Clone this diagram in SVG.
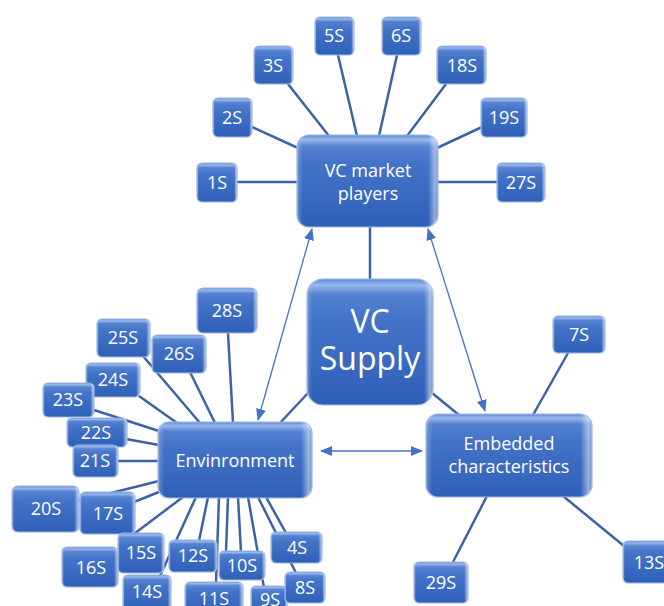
<svg xmlns="http://www.w3.org/2000/svg" width="664" height="606" viewBox="0 0 664 606">
<defs>
<linearGradient id="gv" x1="0" y1="0" x2="0" y2="1">
<stop offset="0" stop-color="#5f8ad6"/>
<stop offset="0.05" stop-color="#9ab8ec"/>
<stop offset="0.12" stop-color="#5683d2"/>
<stop offset="0.3" stop-color="#4474c8"/>
<stop offset="1" stop-color="#2f60b8"/>
</linearGradient>
<linearGradient id="gh" x1="0" y1="0" x2="1" y2="0">
<stop offset="0" stop-color="#ffffff" stop-opacity="0.25"/>
<stop offset="0.04" stop-color="#ffffff" stop-opacity="0"/>
<stop offset="0.93" stop-color="#ffffff" stop-opacity="0"/>
<stop offset="0.98" stop-color="#ffffff" stop-opacity="0.5"/>
<stop offset="1" stop-color="#ffffff" stop-opacity="0.2"/>
</linearGradient>
<marker id="ah" viewBox="0 0 12 10" refX="11" refY="5" markerWidth="12" markerHeight="10" markerUnits="userSpaceOnUse" orient="auto-start-reverse">
<path d="M0,0 L12,5 L0,10 Z" fill="#4472c4"/>
</marker>
</defs>
<style>
.c line{stroke:#3d62a5;stroke-width:2.5;fill:none}
.c line.a{stroke:#4472c4;stroke-width:1.3;marker-start:url(#ah);marker-end:url(#ah)}
.s rect{fill:url(#gv);stroke:#9db5e2;stroke-width:1.2}
.s rect.o{fill:url(#gh);stroke:none}
.s text{font-family:"Open Sans","Noto Sans",sans-serif;fill:#ffffff;font-size:18px;text-anchor:middle}
.s text.big{font-size:32px}
</style>
<rect width="664" height="606" fill="#ffffff"/>
<g id="connectors" class="c">
<line x1="237" y1="182" x2="298" y2="182"/>
<line x1="252" y1="127" x2="298" y2="148"/>
<line x1="288" y1="84" x2="329" y2="136"/>
<line x1="338" y1="55" x2="357" y2="136"/>
<line x1="397" y1="55" x2="379" y2="136"/>
<line x1="446" y1="84" x2="407" y2="136"/>
<line x1="482" y1="127" x2="437" y2="148"/>
<line x1="437" y1="182" x2="497" y2="182"/>
<line x1="370" y1="226" x2="370" y2="280"/>
<line x1="432" y1="393" x2="459" y2="415"/>
<line x1="308" y1="393" x2="280" y2="423"/>
<line x1="533" y1="415" x2="568" y2="353"/>
<line x1="487" y1="496" x2="453" y2="562"/>
<line x1="563" y1="496" x2="624" y2="546"/>
<line x1="228" y1="333" x2="233" y2="423"/>
<line x1="190" y1="372" x2="215" y2="423"/>
<line x1="143" y1="356" x2="200" y2="423"/>
<line x1="139" y1="396" x2="177" y2="423"/>
<line x1="94" y1="410" x2="159" y2="431"/>
<line x1="126" y1="439" x2="159" y2="445"/>
<line x1="117" y1="461" x2="159" y2="461"/>
<line x1="79" y1="501" x2="159" y2="481"/>
<line x1="134" y1="502" x2="159" y2="492"/>
<line x1="183" y1="497" x2="118" y2="546"/>
<line x1="196" y1="497" x2="160" y2="576"/>
<line x1="208" y1="497" x2="199" y2="541"/>
<line x1="219" y1="497" x2="216" y2="583"/>
<line x1="228" y1="497" x2="226" y2="552"/>
<line x1="238" y1="497" x2="241" y2="552"/>
<line x1="248" y1="497" x2="264" y2="588"/>
<line x1="258" y1="497" x2="296" y2="573"/>
<line x1="266" y1="497" x2="286" y2="533"/>
<line class="a" x1="312" y1="229" x2="258" y2="420"/>
<line class="a" x1="428" y1="229" x2="485" y2="411"/>
<line class="a" x1="321" y1="451" x2="422" y2="451"/>
</g>
<g id="n1S" class="s"><rect x="197" y="163" width="40" height="39" rx="5"/><rect class="o" x="197" y="163" width="40" height="39" rx="5"/><text x="217" y="189">1S</text></g>
<g id="n2S" class="s"><rect x="213" y="98" width="39" height="39" rx="5"/><rect class="o" x="213" y="98" width="39" height="39" rx="5"/><text x="232" y="124">2S</text></g>
<g id="n3S" class="s"><rect x="254" y="46" width="39" height="38" rx="5"/><rect class="o" x="254" y="46" width="39" height="38" rx="5"/><text x="273" y="72">3S</text></g>
<g id="n5S" class="s"><rect x="315" y="17" width="39" height="38" rx="5"/><rect class="o" x="315" y="17" width="39" height="38" rx="5"/><text x="334" y="42">5S</text></g>
<g id="n6S" class="s"><rect x="382" y="17" width="39" height="38" rx="5"/><rect class="o" x="382" y="17" width="39" height="38" rx="5"/><text x="401" y="42">6S</text></g>
<g id="n18S" class="s"><rect x="437" y="46" width="49" height="38" rx="5"/><rect class="o" x="437" y="46" width="49" height="38" rx="5"/><text x="462" y="72">18S</text></g>
<g id="n19S" class="s"><rect x="481" y="98" width="46" height="39" rx="5"/><rect class="o" x="481" y="98" width="46" height="39" rx="5"/><text x="504" y="124">19S</text></g>
<g id="n27S" class="s"><rect x="497" y="163" width="48" height="39" rx="5"/><rect class="o" x="497" y="163" width="48" height="39" rx="5"/><text x="521" y="189">27S</text></g>
<g id="nVCmp" class="s"><rect x="297" y="135" width="141" height="92" rx="12"/><rect class="o" x="297" y="135" width="141" height="92" rx="12"/><text x="368" y="177">VC market</text><text x="368" y="200">players</text></g>
<g id="nVCS" class="s"><rect x="307" y="279" width="126" height="126" rx="16"/><rect class="o" x="307" y="279" width="126" height="126" rx="16"/><text class="big" x="370" y="333">VC</text><text class="big" x="370" y="370">Supply</text></g>
<g id="nEnv" class="s"><rect x="158" y="422" width="154" height="76" rx="11"/><rect class="o" x="158" y="422" width="154" height="76" rx="11"/><text x="235" y="467">Envinronment</text></g>
<g id="nEmb" class="s"><rect x="426" y="414" width="166" height="83" rx="12"/><rect class="o" x="426" y="414" width="166" height="83" rx="12"/><text x="509" y="450">Embedded</text><text x="509" y="473">characteristics</text></g>
<g id="n7S" class="s"><rect x="553" y="316" width="52" height="37" rx="5"/><rect class="o" x="553" y="316" width="52" height="37" rx="5"/><text x="579" y="341">7S</text></g>
<g id="n13S" class="s"><rect x="623" y="541" width="52" height="42" rx="5"/><rect class="o" x="623" y="541" width="52" height="42" rx="5"/><text x="649" y="569">13S</text></g>
<g id="n29S" class="s"><rect x="414" y="562" width="54" height="41" rx="5"/><rect class="o" x="414" y="562" width="54" height="41" rx="5"/><text x="441" y="589">29S</text></g>
<g id="n28S" class="s"><rect x="197" y="288" width="60" height="45" rx="6"/><rect class="o" x="197" y="288" width="60" height="45" rx="6"/><text x="227" y="317">28S</text></g>
<g id="n25S" class="s"><rect x="97" y="319" width="53" height="38" rx="5"/><rect class="o" x="97" y="319" width="53" height="38" rx="5"/><text x="123" y="344">25S</text></g>
<g id="n26S" class="s"><rect x="152" y="335" width="54" height="38" rx="5"/><rect class="o" x="152" y="335" width="54" height="38" rx="5"/><text x="179" y="360">26S</text></g>
<g id="n24S" class="s"><rect x="86" y="363" width="54" height="34" rx="5"/><rect class="o" x="86" y="363" width="54" height="34" rx="5"/><text x="113" y="386">24S</text></g>
<g id="n23S" class="s"><rect x="43" y="383" width="51" height="34" rx="5"/><rect class="o" x="43" y="383" width="51" height="34" rx="5"/><text x="68" y="406">23S</text></g>
<g id="n22S" class="s"><rect x="67" y="418" width="60" height="29" rx="5"/><rect class="o" x="67" y="418" width="60" height="29" rx="5"/><text x="96" y="439">22S</text></g>
<g id="n21S" class="s"><rect x="73" y="445" width="45" height="32" rx="5"/><rect class="o" x="73" y="445" width="45" height="32" rx="5"/><text x="95" y="467">21S</text></g>
<g id="n20S" class="s"><rect x="12" y="486" width="67" height="46" rx="6"/><rect class="o" x="12" y="486" width="67" height="46" rx="6"/><text x="46" y="515">20S</text></g>
<g id="n17S" class="s"><rect x="80" y="492" width="55" height="42" rx="5"/><rect class="o" x="80" y="492" width="55" height="42" rx="5"/><text x="108" y="520">17S</text></g>
<g id="n16S" class="s"><rect x="62" y="547" width="56" height="40" rx="5"/><rect class="o" x="62" y="547" width="56" height="40" rx="5"/><text x="91" y="574">16S</text></g>
<g id="n15S" class="s"><rect x="118" y="533" width="46" height="40" rx="5"/><rect class="o" x="118" y="533" width="46" height="40" rx="5"/><text x="141" y="559">15S</text></g>
<g id="n14S" class="s"><rect x="123" y="575" width="48" height="36" rx="5"/><rect class="o" x="123" y="575" width="48" height="36" rx="5"/><text x="147" y="598">14S</text></g>
<g id="n12S" class="s"><rect x="169" y="540" width="48" height="32" rx="5"/><rect class="o" x="169" y="540" width="48" height="32" rx="5"/><text x="193" y="562">12S</text></g>
<g id="n11S" class="s"><rect x="185" y="582" width="58" height="32" rx="5"/><rect class="o" x="185" y="582" width="58" height="32" rx="5"/><text x="214" y="605">11S</text></g>
<g id="n10S" class="s"><rect x="219" y="551" width="46" height="29" rx="5"/><rect class="o" x="219" y="551" width="46" height="29" rx="5"/><text x="242" y="572">10S</text></g>
<g id="n4S" class="s"><rect x="271" y="532" width="51" height="31" rx="5"/><rect class="o" x="271" y="532" width="51" height="31" rx="5"/><text x="297" y="554">4S</text></g>
<g id="n9S" class="s"><rect x="251" y="586" width="36" height="30" rx="5"/><rect class="o" x="251" y="586" width="36" height="30" rx="5"/><text x="270" y="606">9S</text></g>
<g id="n8S" class="s"><rect x="285" y="572" width="40" height="31" rx="5"/><rect class="o" x="285" y="572" width="40" height="31" rx="5"/><text x="305" y="594">8S</text></g>
</svg>
